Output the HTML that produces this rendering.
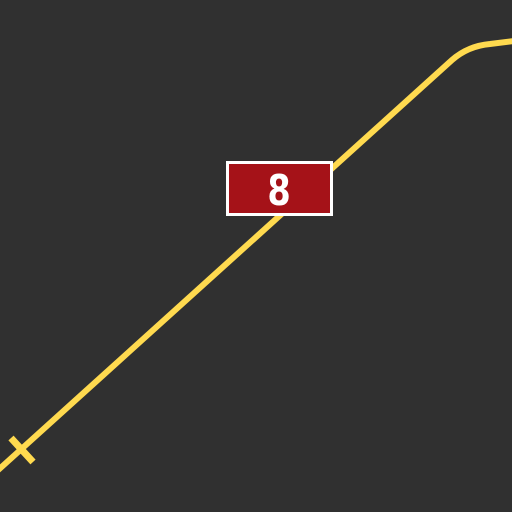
<!DOCTYPE html>
<html><head><style>
body{margin:0;background:#303030;width:512px;height:512px;overflow:hidden}
</style></head><body>
<svg width="512" height="512" style="display:block">
<rect width="512" height="512" fill="#303030"/>
<path d="M-4,472 L452,60 Q468,46 490,44 L514,41" stroke="#ffda4f" stroke-width="6" fill="none"/>
<line x1="11" y1="438" x2="33" y2="462" stroke="#ffda4f" stroke-width="7"/>
<rect x="227.5" y="162.5" width="104" height="52" fill="#a51218" stroke="#ffffff" stroke-width="3"/>
<text x="0" y="0" transform="translate(279,205) scale(0.8,1)" font-family="'DejaVu Sans',sans-serif" font-weight="bold" font-size="42" fill="#fff" text-anchor="middle">8</text>
</svg>
</body></html>
